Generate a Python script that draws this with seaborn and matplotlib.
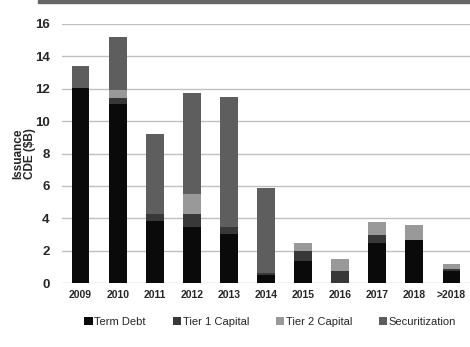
import matplotlib
matplotlib.use("Agg")
import matplotlib.pyplot as plt
import matplotlib.patches as mpatches
import numpy as np
import pandas as pd
import seaborn as sns

years = ["2009", "2010", "2011", "2012", "2013", "2014", "2015", "2016", "2017", "2018", ">2018"]
term_debt = [12.05, 11.05, 3.83, 3.46, 3.02, 0.49, 1.36, 0.0, 2.47, 2.65, 0.74]
tier1 = [0.0, 0.35, 0.43, 0.80, 0.44, 0.13, 0.62, 0.76, 0.49, 0.0, 0.12]
tier2 = [0.0, 0.50, 0.0, 1.23, 0.0, 0.0, 0.49, 0.72, 0.81, 0.93, 0.31]
securitization = [1.35, 3.30, 4.94, 6.24, 8.02, 5.24, 0.0, 0.0, 0.0, 0.0, 0.0]

series_names = ["Term Debt", "Tier 1 Capital", "Tier 2 Capital", "Securitization"]
series_vals = [term_debt, tier1, tier2, securitization]
colors = ["#0a0a0a", "#383838", "#999999", "#5e5e5e"]

sns.set_theme(style="white")
plt.rcParams["font.family"] = ["Liberation Sans", "DejaVu Sans"]

fig = plt.figure(figsize=(4.7, 3.47), dpi=100)
ax = fig.add_axes([62 / 470, 1 - 283 / 347, 1 - 62 / 470, (283 - 24) / 347])

cum = np.cumsum(np.array(series_vals), axis=0)
for i in range(len(series_names) - 1, -1, -1):
    df = pd.DataFrame({"year": years, "value": cum[i]})
    sns.barplot(data=df, x="year", y="value", color=colors[i], width=0.48,
                saturation=1, ax=ax, zorder=3, order=years, linewidth=0)

ax.set_ylim(0, 16)
ax.set_yticks(range(0, 17, 2))
ax.yaxis.grid(True, color="#c0c0c0", linewidth=1.0, zorder=0)
ax.xaxis.grid(False)
for s in ax.spines.values():
    s.set_visible(False)
ax.tick_params(axis="y", length=0, pad=9, labelsize=9.5)
ax.tick_params(axis="x", length=0, pad=5, labelsize=7.5)
for lab in ax.get_yticklabels() + ax.get_xticklabels():
    lab.set_fontweight("bold")
ax.set_xlabel("")
ax.set_ylabel("Issuance\nCDE ($B)", fontsize=8.5, fontweight="bold", labelpad=-1, linespacing=1.0)

handles = [mpatches.Patch(color=c, label=n, linewidth=0) for c, n in zip(colors, series_names)]
fig.legend(handles=handles, loc="center", bbox_to_anchor=(0.575, 1 - 322 / 347), ncol=4,
           frameon=False, fontsize=8, handlelength=0.75, handleheight=0.75,
           handletextpad=0.15, columnspacing=2.4)

fig.patches.append(mpatches.Rectangle((38 / 470, 1 - 3 / 347), 1 - 38 / 470, 3 / 347,
                                      transform=fig.transFigure, color="#666666", zorder=5))

fig.savefig("out.png", dpi=100)
